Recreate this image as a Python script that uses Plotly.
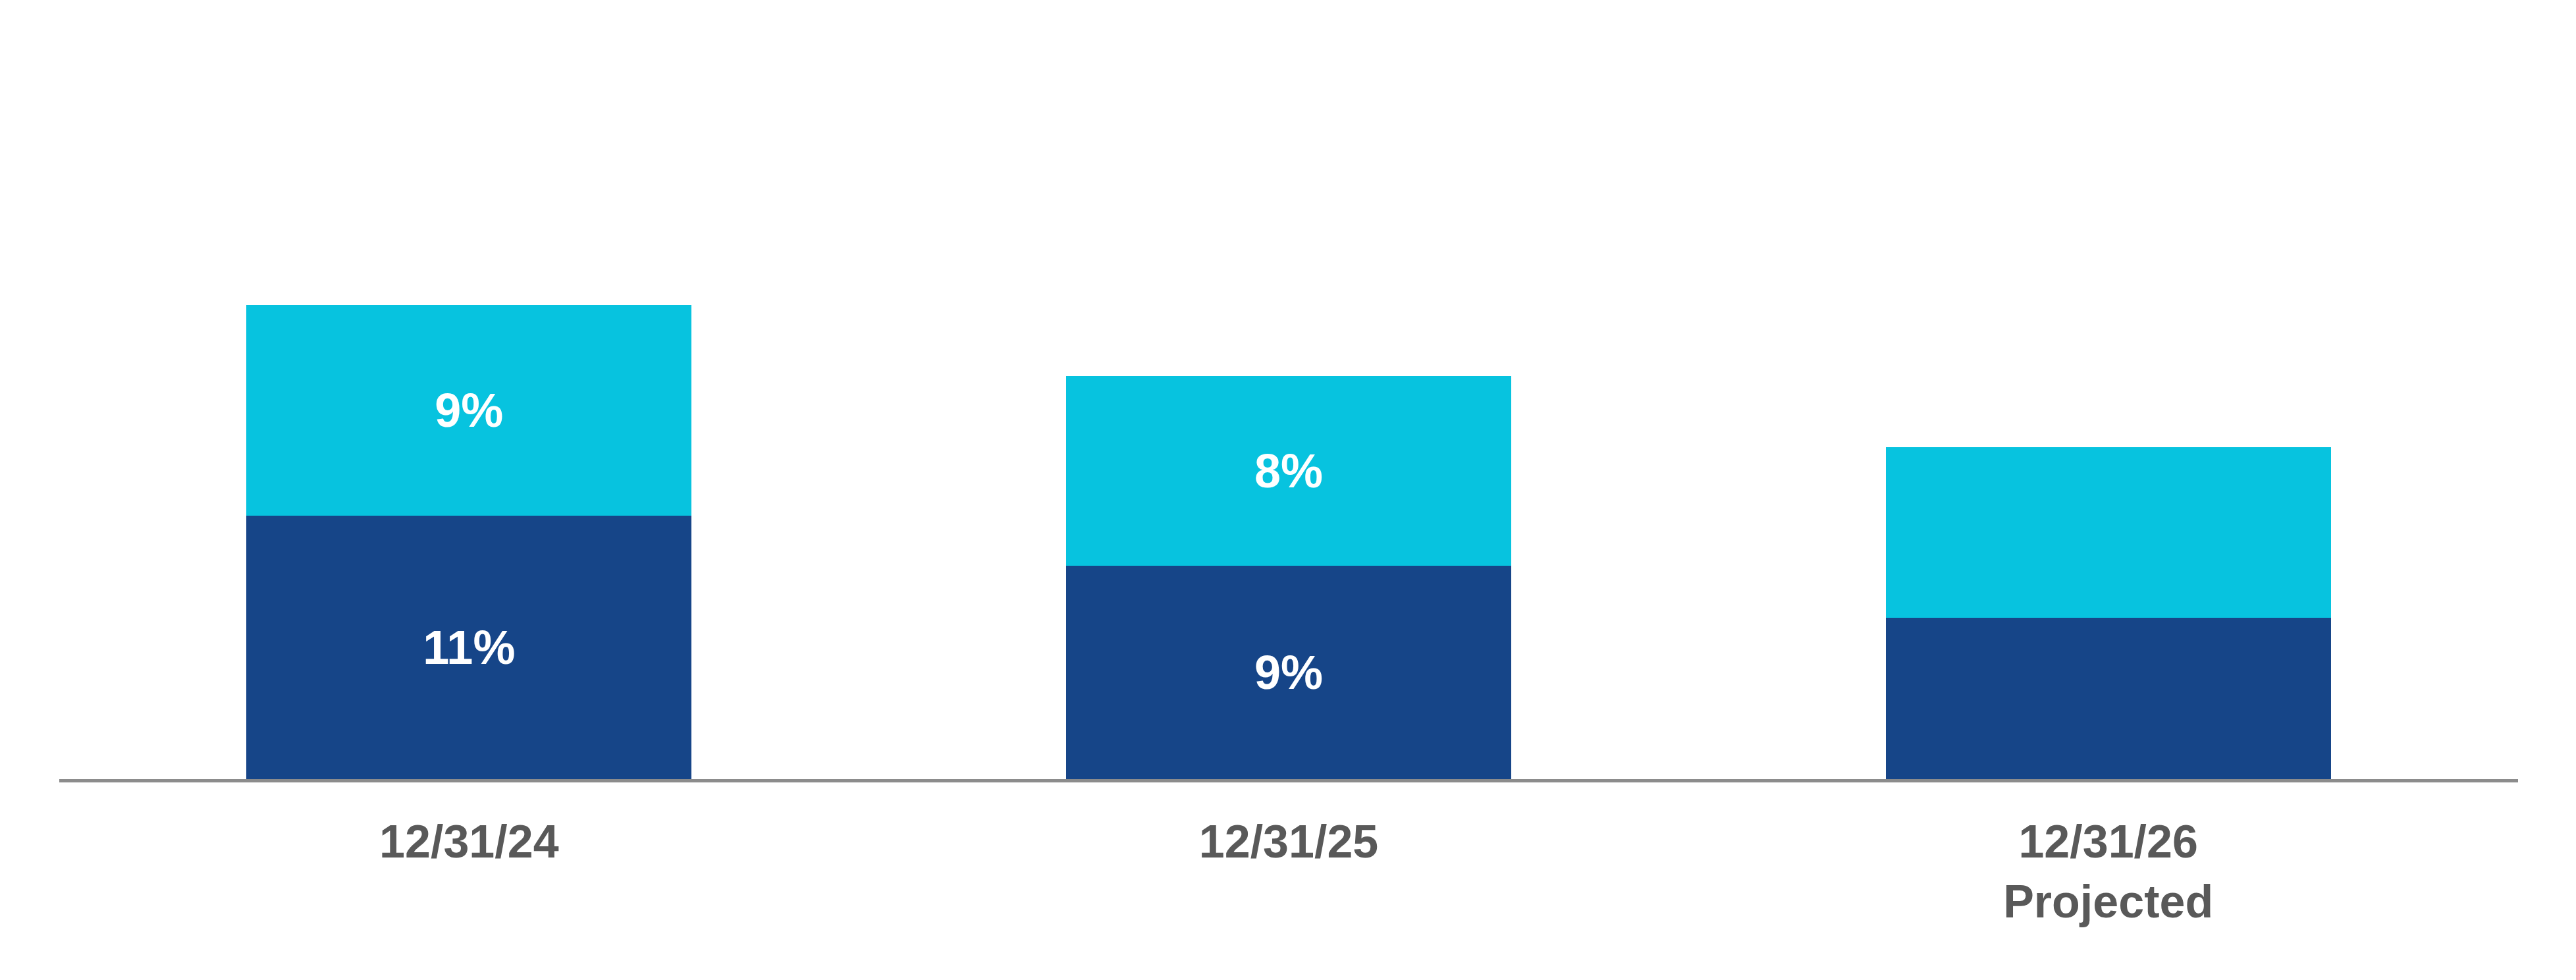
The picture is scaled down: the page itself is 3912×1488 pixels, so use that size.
import plotly.graph_objects as go

categories = ["12/31/24", "12/31/25", "12/31/26<br>Projected"]
lower_values = [11.1, 9.0, 6.8]
upper_values = [8.9, 8.0, 7.2]
lower_labels = ["11%", "9%", ""]
upper_labels = ["9%", "8%", ""]

DARK = "#164588"
LIGHT = "#07C3DF"
FONT = "Liberation Sans"

fig = go.Figure()
fig.add_trace(go.Bar(
    x=categories, y=lower_values, text=lower_labels,
    marker=dict(color=DARK, line=dict(width=0)),
    textposition="inside", insidetextanchor="middle", textangle=0,
    textfont=dict(family=FONT, size=72, color="white", weight="bold"),
    hoverinfo="skip", showlegend=False,
))
fig.add_trace(go.Bar(
    x=categories, y=upper_values, text=upper_labels,
    marker=dict(color=LIGHT, line=dict(width=0)),
    textposition="inside", insidetextanchor="middle", textangle=0,
    textfont=dict(family=FONT, size=72, color="white", weight="bold"),
    hoverinfo="skip", showlegend=False,
))

fig.update_layout(
    barmode="stack",
    bargap=0.457,
    width=3904, height=1480,
    margin=dict(l=82, r=88, t=95, b=305, pad=0),
    paper_bgcolor="white", plot_bgcolor="white",
    uniformtext=dict(minsize=10, mode="show"),
    xaxis=dict(
        showline=True, linecolor="#8c8c8c", linewidth=5,
        showgrid=False, zeroline=False, ticks="",
        tickfont=dict(family=FONT, size=70, color="#595959", weight="bold"),
        ticklabelstandoff=30,
        range=[-0.5, 2.5],
    ),
    yaxis=dict(visible=False, range=[0, 30], showgrid=False, zeroline=False),
)

fig.write_html("out.html")
